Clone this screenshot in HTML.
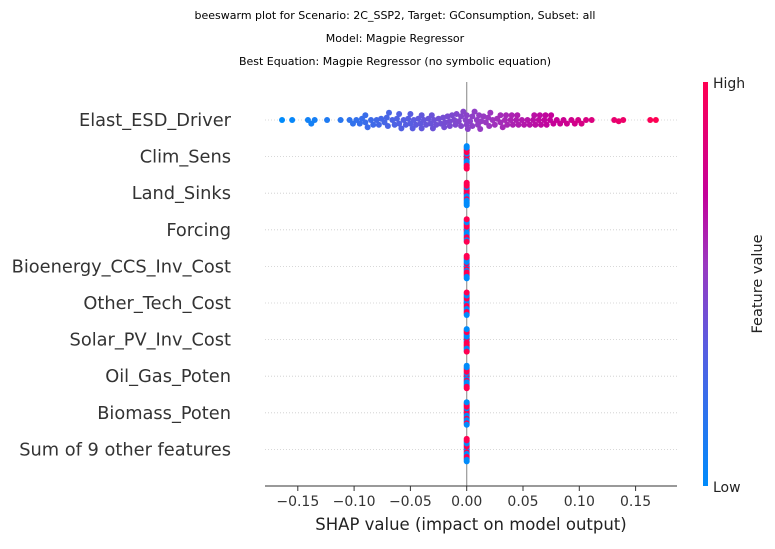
<!DOCTYPE html>
<html><head><meta charset="utf-8"><style>
body{margin:0;background:#fff;font-family:"Liberation Sans","DejaVu Sans",sans-serif;}
svg text{font-family:"DejaVu Sans","Liberation Sans",sans-serif;}
</style></head><body>
<svg id="chart" width="775" height="544" xmlns="http://www.w3.org/2000/svg">
<defs><linearGradient id="cb" x1="0" y1="1" x2="0" y2="0">
<stop offset="0" stop-color="#008bfb"/><stop offset="0.35" stop-color="#5a5ce0"/><stop offset="0.55" stop-color="#9b38c0"/><stop offset="0.72" stop-color="#c4019a"/><stop offset="1" stop-color="#ff0052"/></linearGradient></defs>
<text x="395" y="19" font-size="11" text-anchor="middle" font-family="Liberation Sans">beeswarm plot for Scenario: 2C_SSP2, Target: GConsumption, Subset: all</text>
<text x="395" y="42" font-size="11" text-anchor="middle" font-family="Liberation Sans">Model: Magpie Regressor</text>
<text x="395" y="65" font-size="11" text-anchor="middle" font-family="Liberation Sans">Best Equation: Magpie Regressor (no symbolic equation)</text>
<g id="grid"></g>
<line x1="466.7" y1="82" x2="466.7" y2="486" stroke="#999" stroke-width="1.2"/>
<g id="marks"></g>
<g id="labels"></g>
<line x1="265" y1="486" x2="677" y2="486" stroke="#333" stroke-width="1"/>
<g id="ticks"></g>
<text x="471" y="530" font-size="16.5" text-anchor="middle" fill="#222">SHAP value (impact on model output)</text>
<rect x="703" y="82" width="5" height="404" fill="url(#cb)"/>
<text x="713" y="88" font-size="14" fill="#222">High</text>
<text x="713" y="492" font-size="14" fill="#222">Low</text>
<text transform="translate(762,284) rotate(-90)" font-size="14.5" text-anchor="middle" fill="#222">Feature value</text>
</svg>
<script>
const features=["Elast_ESD_Driver","Clim_Sens","Land_Sinks","Forcing","Bioenergy_CCS_Inv_Cost","Other_Tech_Cost","Solar_PV_Inv_Cost","Oil_Gas_Poten","Biomass_Poten","Sum of 9 other features"];
const xTicks=[-0.15,-0.10,-0.05,0.00,0.05,0.10,0.15];
const xTickLabels=["\u22120.15","\u22120.10","\u22120.05","0.00","0.05","0.10","0.15"];
const topShap=[-0.164,-0.155,-0.141,-0.138,-0.135,-0.124,-0.112,-0.104,-0.101,-0.098,-0.095,-0.093,-0.09,-0.088,-0.085,-0.083,-0.08,-0.078,-0.076,-0.073,-0.071,-0.069,-0.066,-0.064,-0.062,-0.06,-0.058,-0.056,-0.054,-0.052,-0.05,-0.048,-0.047,-0.045,-0.043,-0.041,-0.04,-0.038,-0.036,-0.034,-0.032,-0.031,-0.029,-0.027,-0.025,-0.023,-0.021,-0.019,-0.017,-0.015,-0.013,-0.011,-0.009,-0.007,-0.005,-0.003,-0.001,0.001,0.003,0.005,0.007,0.009,0.011,0.013,0.015,0.017,0.019,0.021,0.023,0.025,0.027,0.03,0.032,0.034,0.036,0.039,0.041,0.044,0.046,0.049,0.051,0.054,0.056,0.059,0.061,0.064,0.066,0.069,0.071,0.074,0.077,0.08,0.083,0.086,0.089,0.093,0.096,0.099,0.102,0.106,0.111,0.131,0.135,0.139,0.163,0.168,-0.09,-0.07,-0.05,-0.03,-0.02,-0.01,0.0,0.01,0.02,0.03,0.04,0.06,0.07,0.0,-0.005,0.005,-0.015,0.012,0.035,0.045,-0.06,-0.04,0.065,0.075];
const otherShap=[0,0,0,0,0,0,0,0,0,0,0,0,0,0,0,0];
const otherFeat=[[1,0,1,1,0,0,1,0,1,0,1,1,0,1,0,1],[0,1,1,0,1,0,1,1,0,0,1,0,1,0,1,0],[1,1,0,0,1,0,1,0,1,1,0,1,0,0,1,1],[0,1,0,1,1,0,0,1,0,1,0,1,1,0,1,0],[1,0,0,1,0,1,1,0,1,0,0,1,0,1,1,0],[0,0,1,1,0,1,0,1,0,1,1,0,1,0,0,1],[1,0,1,0,0,1,1,0,1,0,1,0,0,1,0,1],[0,1,1,0,1,0,0,1,1,0,1,0,1,1,0,0],[1,0,0,1,1,0,1,0,0,1,0,1,1,0,1,0]];
const NS="http://www.w3.org/2000/svg";
const xs=v=>466.7+v*1126;
const rowY=i=>120+i*36.6;
function lerp(a,b,t){return Math.round(a+(b-a)*t);}
const stops=[[0,[0,139,251]],[0.35,[90,92,224]],[0.55,[155,56,192]],[0.72,[196,1,154]],[1,[255,0,82]]];
function col(t){t=Math.max(0,Math.min(1,t));for(let i=1;i<stops.length;i++){if(t<=stops[i][0]){const a=stops[i-1],b=stops[i];const u=(t-a[0])/(b[0]-a[0]);return `rgb(${lerp(a[1][0],b[1][0],u)},${lerp(a[1][1],b[1][1],u)},${lerp(a[1][2],b[1][2],u)})`;}}return "rgb(255,0,82)";}
const gridG=document.getElementById('grid'),marksG=document.getElementById('marks'),labelsG=document.getElementById('labels'),ticksG=document.getElementById('ticks');
features.forEach((f,i)=>{
 const l=document.createElementNS(NS,'line');
 
 
 l.setAttribute('x1',265);l.setAttribute('x2',677);l.setAttribute('y1',rowY(i));l.setAttribute('y2',rowY(i));
 l.setAttribute('stroke','#ccc');l.setAttribute('stroke-dasharray','1,2');l.setAttribute('stroke-width','0.8');
 gridG.appendChild(l);
 const t=document.createElementNS(NS,'text');
 
 
 t.setAttribute('x',231);t.setAttribute('y',rowY(i)+6);t.setAttribute('text-anchor','end');t.setAttribute('font-size','17.8');t.setAttribute('fill','#333');
 t.textContent=f;labelsG.appendChild(t);
});
function swarm(pts,cy,d,step){
 const placed=[];const order=pts.map((p,i)=>i).sort((a,b)=>pts[a].px-pts[b].px);
 order.forEach(k=>{const p=pts[k];let best=0;
  for(let s=0;s<60;s++){const off=(s%2?1:-1)*Math.ceil(s/2)*step;
   if(placed.every(q=>(q.px-p.px)**2+(q.y-(cy+off))**2>=d*d)){best=off;break;}}
  p.y=cy+best;placed.push(p);});
 return pts;
}
const tmin=Math.min(...topShap),tmax=Math.max(...topShap);
const topPts=topShap.map(v=>({px:xs(v),c:col((v-tmin)/(tmax-tmin))}));
swarm(topPts,rowY(0),4.6,1.2);
topPts.forEach(p=>{const c=document.createElementNS(NS,'circle');
 
 
 c.setAttribute('cx',p.px);c.setAttribute('cy',Math.max(rowY(0)-9,Math.min(rowY(0)+9,p.y)));c.setAttribute('r',3);c.setAttribute('fill',p.c);marksG.appendChild(c);});
for(let r=1;r<features.length;r++){
 let pts=otherShap.map((v,k)=>({px:xs(v),c:col(otherFeat[r-1][k])}));
 pts=swarm(pts,rowY(r),1.5,1.5);
 pts.forEach(p=>{const c=document.createElementNS(NS,'circle');
  
  
  c.setAttribute('cx',p.px);c.setAttribute('cy',Math.max(rowY(r)-12,Math.min(rowY(r)+12,p.y)));c.setAttribute('r',3);c.setAttribute('fill',p.c);marksG.appendChild(c);});
}
xTicks.forEach((v,i)=>{
 const l=document.createElementNS(NS,'line');
 
 
 l.setAttribute('x1',xs(v));l.setAttribute('x2',xs(v));l.setAttribute('y1',486);l.setAttribute('y2',491);l.setAttribute('stroke','#333');
 ticksG.appendChild(l);
 const t=document.createElementNS(NS,'text');
 
 
 t.setAttribute('x',xs(v));t.setAttribute('y',506);t.setAttribute('text-anchor','middle');t.setAttribute('font-size','14');t.setAttribute('fill','#333');
 t.textContent=xTickLabels[i];ticksG.appendChild(t);
});
</script>
</body></html>
